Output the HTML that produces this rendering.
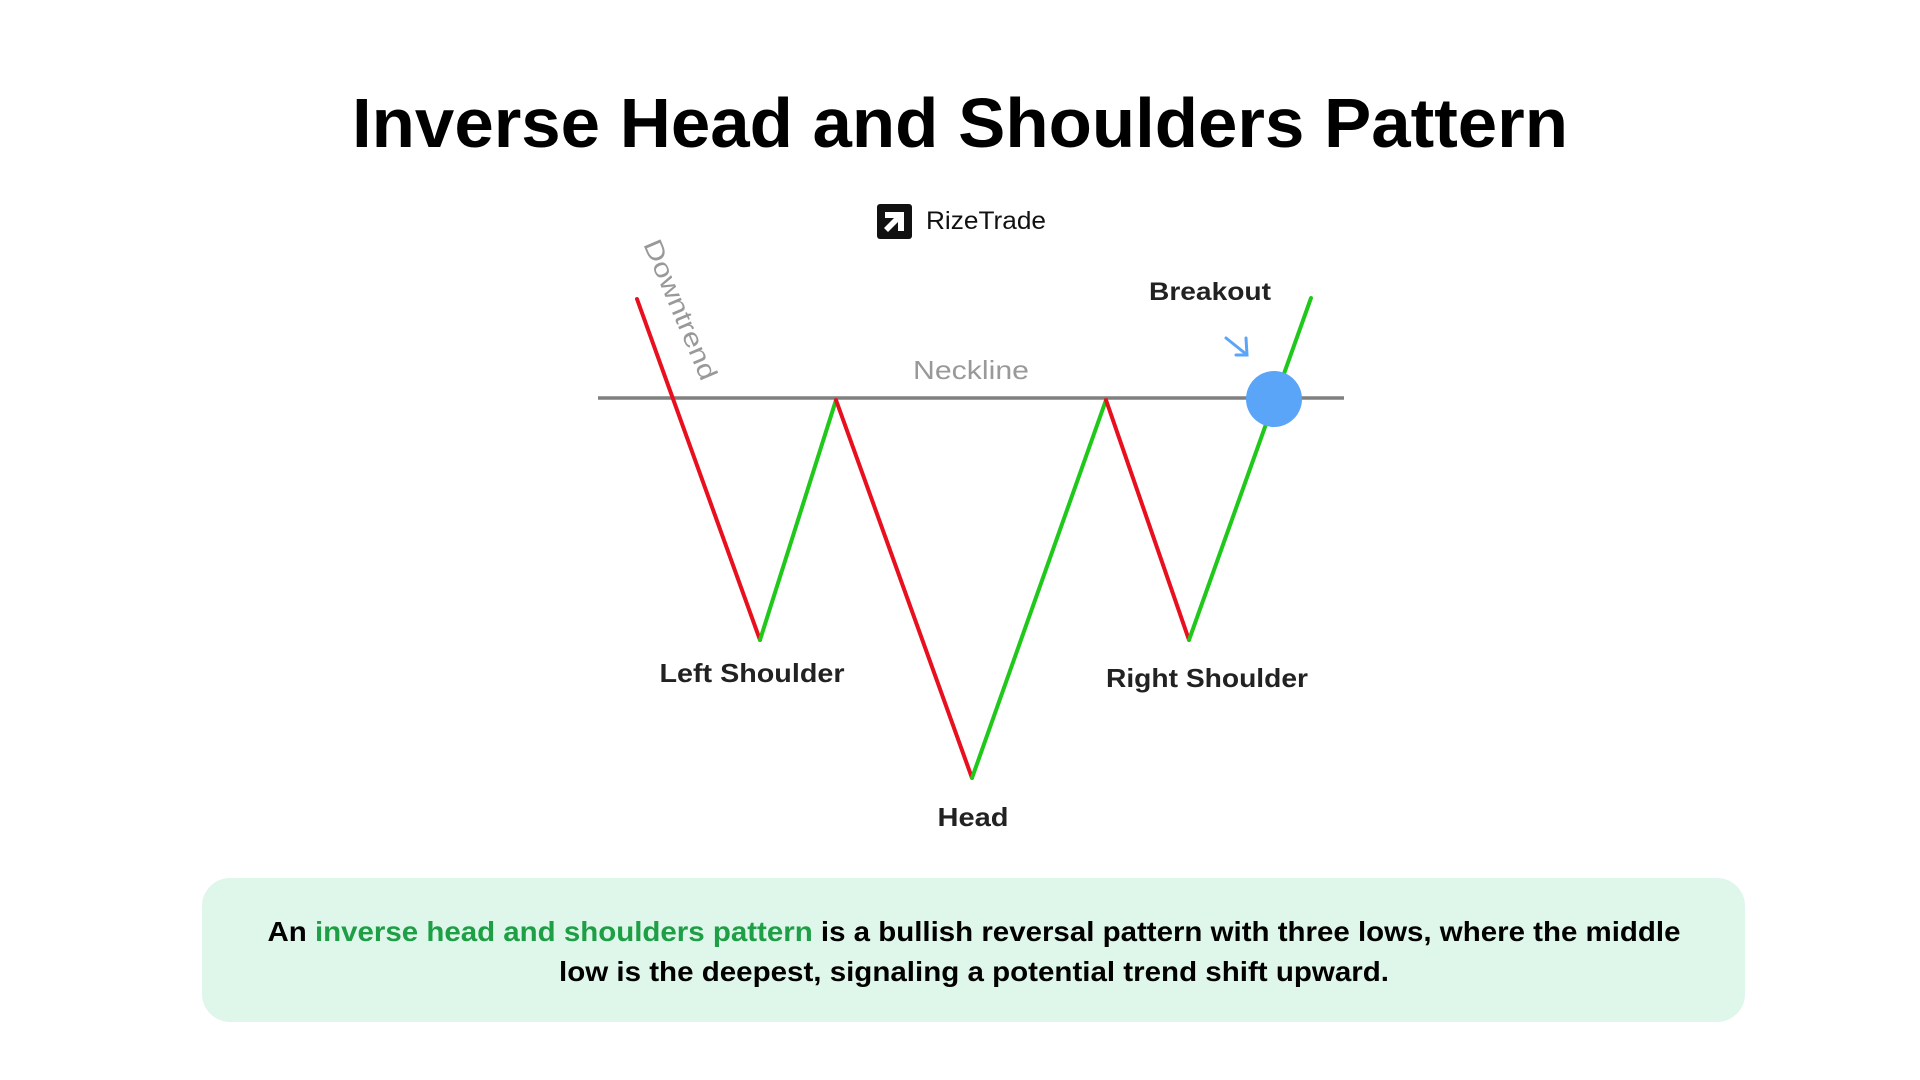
<!DOCTYPE html>
<html><head><meta charset="utf-8"><style>
html,body{margin:0;padding:0;background:#fff;}
svg{display:block}
</style></head><body>
<svg width="1920" height="1080" viewBox="0 0 1920 1080" xmlns="http://www.w3.org/2000/svg">
<rect width="1920" height="1080" fill="#fff"/>
<text x="960" y="147" text-anchor="middle" font-family="Liberation Sans, sans-serif" font-weight="bold" font-size="70" fill="#000" textLength="1216" lengthAdjust="spacingAndGlyphs">Inverse Head and Shoulders Pattern</text>
<rect x="877" y="204" width="35" height="35" rx="3" fill="#111"/>
<path d="M885 212 L904 212 L904 231 L898 231 L898 222 L888 232 L884 228 L894 218 L885 218 Z" fill="#fff"/>
<text x="926" y="229" font-family="Liberation Sans, sans-serif" font-size="25" fill="#111" textLength="120" lengthAdjust="spacingAndGlyphs">RizeTrade</text>
<line x1="598" y1="398" x2="1344" y2="398" stroke="#808080" stroke-width="3.5"/>
<text x="971" y="379" text-anchor="middle" font-family="Liberation Sans, sans-serif" font-size="26" fill="#999" textLength="116" lengthAdjust="spacingAndGlyphs">Neckline</text>
<g stroke-width="4" fill="none" stroke-linecap="round">
<line x1="637" y1="299" x2="760" y2="640" stroke="#e8101e"/>
<line x1="760" y1="640" x2="836" y2="400" stroke="#1fc81a"/>
<line x1="836" y1="400" x2="972" y2="778" stroke="#e8101e"/>
<line x1="972" y1="778" x2="1106" y2="400" stroke="#1fc81a"/>
<line x1="1106" y1="400" x2="1189" y2="640" stroke="#e8101e"/>
<line x1="1189" y1="640" x2="1311" y2="298" stroke="#1fc81a"/>
</g>
<circle cx="1274" cy="399" r="28" fill="#5aa5f8"/>
<g stroke="#5aa5f8" stroke-width="3" fill="none" stroke-linecap="round">
<line x1="1226" y1="338" x2="1246" y2="354"/>
<polyline points="1236,355 1247,355 1246,338"/>
</g>
<text x="1210" y="300" text-anchor="middle" font-family="Liberation Sans, sans-serif" font-weight="bold" font-size="25" fill="#222" textLength="122" lengthAdjust="spacingAndGlyphs">Breakout</text>
<text transform="translate(643,244) rotate(67)" font-family="Liberation Sans, sans-serif" font-size="26" fill="#999" textLength="150" lengthAdjust="spacingAndGlyphs">Downtrend</text>
<text x="752" y="682" text-anchor="middle" font-family="Liberation Sans, sans-serif" font-weight="bold" font-size="26" fill="#222" textLength="185" lengthAdjust="spacingAndGlyphs">Left Shoulder</text>
<text x="1207" y="687" text-anchor="middle" font-family="Liberation Sans, sans-serif" font-weight="bold" font-size="26" fill="#222" textLength="202" lengthAdjust="spacingAndGlyphs">Right Shoulder</text>
<text x="973" y="826" text-anchor="middle" font-family="Liberation Sans, sans-serif" font-weight="bold" font-size="26" fill="#222" textLength="71" lengthAdjust="spacingAndGlyphs">Head</text>
<rect x="202" y="878" width="1543" height="144" rx="28" fill="#dff6ea"/>
<text x="974" y="941" text-anchor="middle" font-family="Liberation Sans, sans-serif" font-weight="bold" font-size="28" fill="#000" textLength="1413" lengthAdjust="spacingAndGlyphs">An <tspan fill="#1e9e45">inverse head and shoulders pattern</tspan> is a bullish reversal pattern with three lows, where the middle</text>
<text x="974" y="981" text-anchor="middle" font-family="Liberation Sans, sans-serif" font-weight="bold" font-size="28" fill="#000" textLength="830" lengthAdjust="spacingAndGlyphs">low is the deepest, signaling a potential trend shift upward.</text>
</svg>
</body></html>
